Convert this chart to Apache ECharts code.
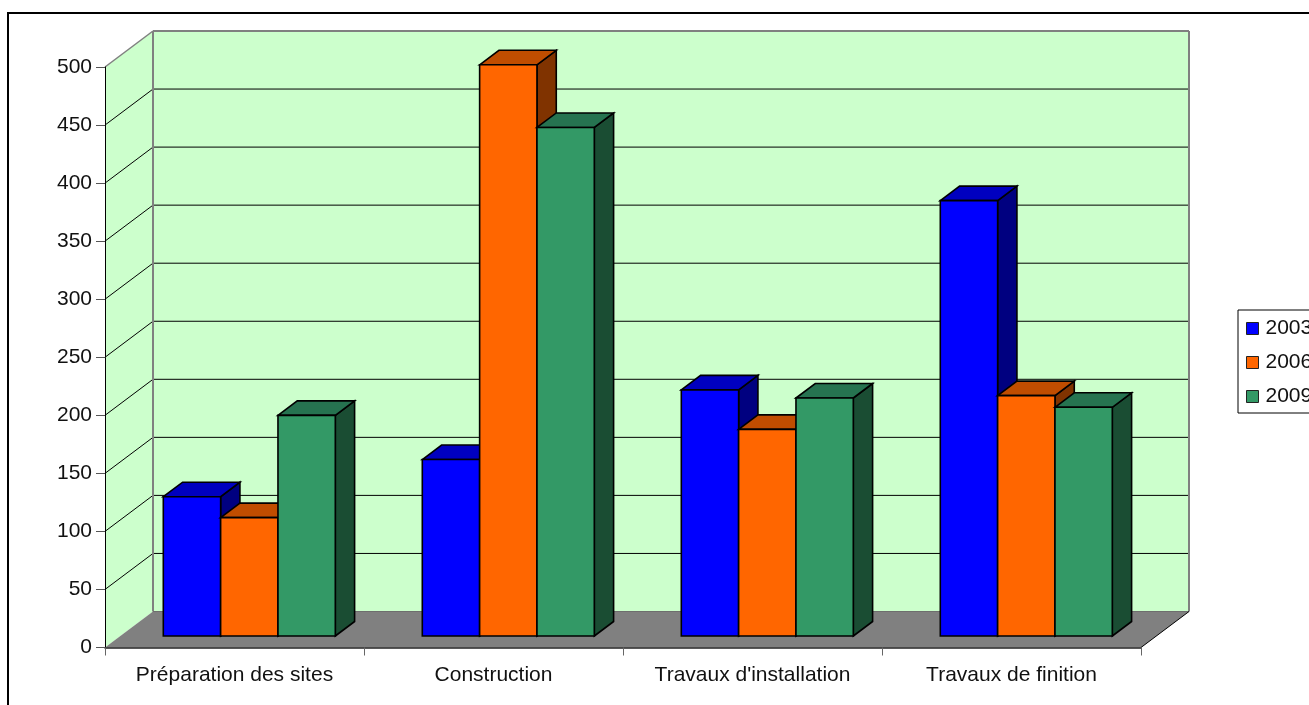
<!DOCTYPE html>
<html>
<head>
<meta charset="utf-8">
<style>html,body{margin:0;padding:0;background:#fff;overflow:hidden}#c{width:1309px;height:705px}</style>
<script src="https://cdn.jsdelivr.net/npm/echarts@6/dist/echarts.min.js"></script>
</head>
<body>
<div id="c"></div>
<script>
const categories = ["Préparation des sites", "Construction", "Travaux d'installation", "Travaux de finition"];
const values2003 = [120, 152, 212, 375];
const values2006 = [102, 492, 178, 207];
const values2009 = [190, 438, 205, 197];
const yTicks = [0, 50, 100, 150, 200, 250, 300, 350, 400, 450, 500];

// 3D projection constants (pixels)
const DX = 48, DY = 36;          // full depth of the plot box
const FRONT_X = 14.8, FRONT_Y = 11.5; // bars' front face offset into the box
const BAR_DX = 19.3, BAR_DY = 14.5;   // bar depth
const GROUP = 172 / 259;         // share of the band used by the three bars

function poly(points, fill, stroke, lw) {
  return { type: 'polygon', shape: { points }, style: { fill, stroke: stroke || null, lineWidth: lw || 0 } };
}
function line(x1, y1, x2, y2, stroke, lw) {
  return { type: 'line', shape: { x1, y1, x2, y2 }, style: { stroke, lineWidth: lw } };
}

function renderWalls(params, api) {
  const cs = params.coordSys;
  const l = cs.x, r = cs.x + cs.width, t = cs.y, b = cs.y + cs.height;
  const kids = [
    poly([[l + DX, t - DY], [r + DX, t - DY], [r + DX, b - DY], [l + DX, b - DY]], '#CCFFCC'),
    poly([[l, t], [l + DX, t - DY], [l + DX, b - DY], [l, b]], '#CCFFCC'),
    poly([[l, b], [l + DX, b - DY], [r + DX, b - DY], [r, b]], '#808080')
  ];
  yTicks.forEach(v => {
    if (v === 0 || v === 500) return;
    const y = api.coord([0, v])[1];
    kids.push(line(l, y, l + DX, y - DY, '#000', 1));
    kids.push(line(l + DX, y - DY, r + DX, y - DY, '#000', 1));
  });
  kids.push(line(l, t, l + DX, t - DY, '#808080', 1.5));
  kids.push(line(l + DX, t - DY, r + DX, t - DY, '#808080', 2));
  kids.push(line(l + DX, t - DY, l + DX, b - DY, '#808080', 2));
  kids.push(line(r + DX, t - DY, r + DX, b - DY, '#808080', 2));
  kids.push(line(l + DX, b - DY, r + DX, b - DY, '#6e6e6e', 1));
  kids.push(line(r, b, r + DX, b - DY, '#000', 1));
  return { type: 'group', children: kids };
}

function barRenderer(index, front, top, side) {
  return function (params, api) {
    const base = api.coord([api.value(0), 0]);
    const head = api.coord([api.value(0), api.value(1)]);
    const band = api.size([1, 0])[0];
    const w = band * GROUP / 3;
    const x0 = base[0] - band * GROUP / 2 + index * w + FRONT_X;
    const x1 = x0 + w;
    const yb = base[1] - FRONT_Y;
    const yt = head[1] - FRONT_Y;
    const stroke = { stroke: '#000', lineWidth: 1.6, lineJoin: 'miter' };
    const mk = (pts, fill) => ({ type: 'polygon', shape: { points: pts }, style: Object.assign({ fill }, stroke) });
    return {
      type: 'group',
      children: [
        mk([[x1, yb], [x1 + BAR_DX, yb - BAR_DY], [x1 + BAR_DX, yt - BAR_DY], [x1, yt]], side),
        mk([[x0, yt], [x0 + BAR_DX, yt - BAR_DY], [x1 + BAR_DX, yt - BAR_DY], [x1, yt]], top),
        mk([[x0, yb], [x1, yb], [x1, yt], [x0, yt]], front)
      ]
    };
  };
}

function barSeries(name, values, index, front, top, side) {
  return {
    type: 'custom',
    name,
    z: 3 + index,
    clip: false,
    itemStyle: { color: front, borderColor: '#000', borderWidth: 1 },
    encode: { x: 0, y: 1 },
    data: values.map((v, i) => [i, v]),
    renderItem: barRenderer(index, front, top, side)
  };
}

const chart = echarts.init(document.getElementById('c'), null, { renderer: 'canvas' });
const font = { fontFamily: '"Liberation Sans", Arial, sans-serif', fontSize: 21, color: '#111' };
chart.setOption({
  animation: false,
  backgroundColor: '#fff',
  grid: { left: 105, right: 168, top: 67, bottom: 57.5, containLabel: false },
  xAxis: {
    type: 'category',
    data: categories,
    z: 10,
    boundaryGap: true,
    axisLine: { lineStyle: { color: '#222', width: 1.5 } },
    axisTick: { show: true, length: 8, alignWithLabel: false, lineStyle: { color: '#666' } },
    axisLabel: Object.assign({ margin: 17, interval: 0 }, font),
    splitLine: { show: false }
  },
  yAxis: {
    type: 'value',
    min: 0,
    max: 500,
    interval: 50,
    z: 10,
    axisLine: { show: true, lineStyle: { color: '#000', width: 1 } },
    axisTick: { show: true, length: 9, lineStyle: { color: '#555' } },
    axisLabel: Object.assign({ margin: 13, padding: [4, 0, 0, 0] }, font),
    splitLine: { show: false }
  },
  legend: {
    show: true,
    orient: 'vertical',
    left: 1238,
    top: 310,
    padding: [8, 60, 6, 8],
    icon: 'rect',
    itemWidth: 12,
    itemHeight: 12,
    itemGap: 13,
    backgroundColor: '#fff',
    borderColor: '#000',
    borderWidth: 1,
    textStyle: Object.assign({}, font, { padding: [0, 0, 0, 2] }),
    data: ['2003', '2006', '2009'],
    itemStyle: { borderColor: '#222', borderWidth: 1 }
  },
  graphic: [{
    type: 'rect',
    silent: true,
    shape: { x: 8, y: 13, width: 1500, height: 900 },
    style: { fill: null, stroke: '#000', lineWidth: 2 }
  }],
  series: [
    {
      type: 'custom',
      silent: true,
      z: 1,
      clip: false,
      legendHoverLink: false,
      data: [[0, 0]],
      encode: { x: 0, y: 1 },
      renderItem: renderWalls
    },
    barSeries('2003', values2003, 0, '#0000FF', '#0000C0', '#000080'),
    barSeries('2006', values2006, 1, '#FF6600', '#C04D00', '#803300'),
    barSeries('2009', values2009, 2, '#339966', '#267350', '#1A4D33')
  ]
});
</script>
</body>
</html>
